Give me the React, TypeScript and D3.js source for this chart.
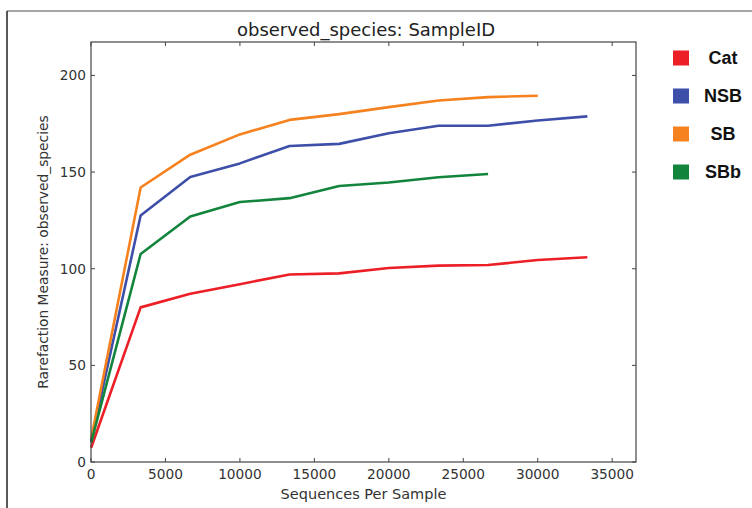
import React from "react";
import * as d3 from "d3";

const depths = [10, 3333, 6666, 10000, 13333, 16666, 20000, 23333, 26666, 30000, 33333];
const seriesNames = ["Cat", "NSB", "SB", "SBb"];
const catValues = [7.4, 80, 87, 92, 97, 97.6, 100.4, 101.6, 101.9, 104.5, 105.9];
const nsbValues = [10.9, 127.5, 147.5, 154.5, 163.5, 164.6, 170.1, 174, 174, 176.7, 178.8];
const sbValues = [12, 142, 159, 169.5, 177, 180, 183.6, 187, 188.8, 189.5];
const sbbValues = [10, 107.6, 127, 134.5, 136.5, 142.8, 144.6, 147.3, 149];
const seriesColors = ["#ec1f27", "#3d4fa8", "#f5821f", "#12843c"];
const xTicks = [0, 5000, 10000, 15000, 20000, 25000, 30000, 35000];
const yTicks = [0, 50, 100, 150, 200];

const W = 752;
const H = 508;
const left = 91;
const right = 636;
const top = 42;
const bottom = 462;

export default function App() {
  const x = d3.scaleLinear().domain([0, 36600]).range([left, right]);
  const y = d3.scaleLinear().domain([0, 217.3]).range([bottom, top]);
  const line = d3
    .line<[number, number]>()
    .x((d) => x(d[0]))
    .y((d) => y(d[1]));
  const allValues = [catValues, nsbValues, sbValues, sbbValues];
  const font = "'DejaVu Sans', sans-serif";
  const tickColor = "#333";
  const tl = 4;

  return (
    <svg
      width={W}
      height={H}
      style={{ position: "absolute", left: 0, top: 0, background: "#fff" }}
    >
      <line x1={7} x2={W} y1={11} y2={11} stroke="#888" strokeWidth={1.5} />
      <line x1={7} x2={7} y1={11} y2={H} stroke="#222" strokeWidth={1.5} />

      {allValues.map((vals, i) => (
        <path
          key={seriesNames[i]}
          d={line(vals.map((v, j) => [depths[j], v] as [number, number])) || ""}
          fill="none"
          stroke={seriesColors[i]}
          strokeWidth={2.6}
          strokeLinejoin="round"
        />
      ))}

      <rect
        x={left}
        y={top}
        width={right - left}
        height={bottom - top}
        fill="none"
        stroke="#444"
        strokeWidth={1.2}
      />

      {xTicks.map((t) => (
        <g key={"x" + t}>
          <line x1={x(t)} x2={x(t)} y1={bottom} y2={bottom - tl} stroke="#444" />
          <line x1={x(t)} x2={x(t)} y1={top} y2={top + tl} stroke="#444" />
          <text
            x={x(t)}
            y={bottom + 17}
            textAnchor="middle"
            fontFamily={font}
            fontSize={13.7}
            fill={tickColor}
          >
            {t}
          </text>
        </g>
      ))}
      {yTicks.map((t) => (
        <g key={"y" + t}>
          <line x1={left} x2={left + tl} y1={y(t)} y2={y(t)} stroke="#444" />
          <line x1={right} x2={right - tl} y1={y(t)} y2={y(t)} stroke="#444" />
          <text
            x={left - 5}
            y={y(t)}
            dy="0.35em"
            textAnchor="end"
            fontFamily={font}
            fontSize={13.7}
            fill={tickColor}
          >
            {t}
          </text>
        </g>
      ))}

      <text
        x={366}
        y={36}
        textAnchor="middle"
        fontFamily={font}
        fontSize={18}
        fill="#222"
      >
        observed_species: SampleID
      </text>
      <text
        x={(left + right) / 2}
        y={499}
        textAnchor="middle"
        fontFamily={font}
        fontSize={14.5}
        fill={tickColor}
      >
        Sequences Per Sample
      </text>
      <text
        transform={`translate(48,${(top + bottom) / 2}) rotate(-90)`}
        textAnchor="middle"
        fontFamily={font}
        fontSize={13.8}
        fill={tickColor}
      >
        Rarefaction Measure: observed_species
      </text>

      {seriesNames.map((name, i) => {
        const cy = 58 + i * 38;
        return (
          <g key={"leg" + name}>
            <rect x={673} y={cy - 7.5} width={16} height={15} fill={seriesColors[i]} />
            <text
              x={723}
              y={cy}
              dy="0.36em"
              textAnchor="middle"
              fontFamily="'Liberation Sans', Arial, sans-serif"
              fontWeight="bold"
              fontSize={18}
              fill="#111"
            >
              {name}
            </text>
          </g>
        );
      })}
    </svg>
  );
}
